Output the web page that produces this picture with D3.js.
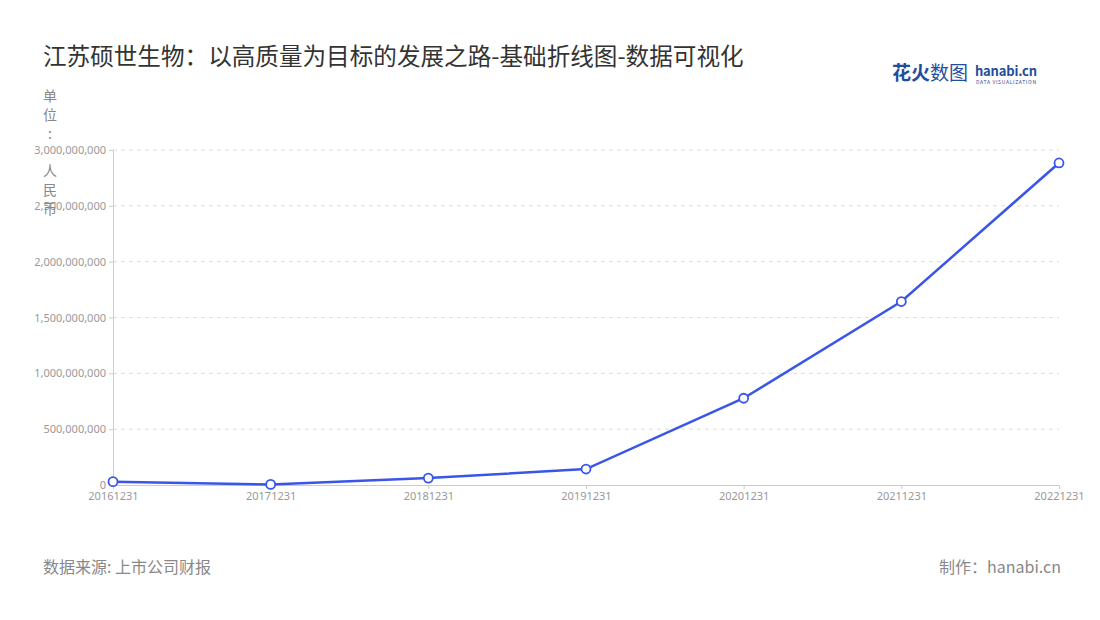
<!DOCTYPE html><html><head><meta charset="utf-8"><script src="https://cdn.jsdelivr.net/npm/d3@7"></script>
<style>body{margin:0;background:#fff;font-family:"Noto Sans CJK SC","Noto Sans",sans-serif}</style></head><body><svg id="c" width="1100" height="620"></svg><script>
const categories=["20161231","20171231","20181231","20191231","20201231","20211231","20221231"];
const values=[30000000,5000000,62000000,143000000,777000000,1643000000,2884000000];
const yTicks=[0,500000000,1000000000,1500000000,2000000000,2500000000,3000000000];
const svg=d3.select("#c");
const x=d3.scalePoint().domain(categories).range([113,1059]);
const y=d3.scaleLinear().domain([0,3000000000]).range([485,150]);
svg.append("text").attr("x",43).attr("y",65).attr("font-size",23.6).attr("fill","#333").text("江苏硕世生物：以高质量为目标的发展之路-基础折线图-数据可视化");
// logo
svg.append("text").attr("x",892).attr("y",80).attr("font-size",19).attr("font-weight","bold").attr("fill","#1f4e9e").text("花火");
svg.append("text").attr("x",930).attr("y",80).attr("font-size",19).attr("fill","#1f4e9e").text("数图");
svg.append("text").attr("x",975).attr("y",76).attr("font-size",13).attr("font-weight","bold").attr("fill","#1f4e9e").attr("textLength",62).text("hanabi.cn");
svg.append("text").attr("x",976).attr("y",84).attr("font-size",5).attr("fill","#1f4e9e").attr("textLength",60).text("DATA VISUALIZATION");
// grid
svg.append("g").selectAll("line").data(yTicks.slice(1)).join("line").attr("x1",113).attr("x2",1059).attr("y1",d=>y(d)).attr("y2",d=>y(d)).attr("stroke","#ddd").attr("stroke-dasharray","4,4");
const ya=svg.append("g").attr("transform","translate(113,0)").call(d3.axisLeft(y).tickValues(yTicks).tickFormat(d3.format(",")).tickSize(4));
ya.selectAll("text").attr("fill","#999").attr("font-size",11).attr("font-family","Noto Sans");
ya.selectAll("line,path").attr("stroke","#ccc");
const xa=svg.append("g").attr("transform","translate(0,485)").call(d3.axisBottom(x).tickSize(4));
xa.selectAll("text").attr("fill","#999").attr("font-size",11).attr("font-family","Noto Sans");
xa.selectAll("line,path").attr("stroke","#ccc");
// unit label
"单位: 人民币".split("").forEach((ch,i)=>svg.append("text").attr("x",50).attr("y",101+i*18.8).attr("text-anchor","middle").attr("font-size",14).attr("fill","#888").text(ch));
svg.append("path").datum(values).attr("fill","none").attr("stroke","#3a56e8").attr("stroke-width",2.5)
 .attr("d",d3.line().x((d,i)=>x(categories[i])).y(d=>y(d)));
svg.append("g").selectAll("circle").data(values).join("circle").attr("cx",(d,i)=>x(categories[i])).attr("cy",d=>y(d)).attr("r",4.5).attr("fill","#fff").attr("stroke","#3a56e8").attr("stroke-width",1.8);
svg.append("text").attr("x",43).attr("y",573).attr("font-size",16).attr("fill","#888").text("数据来源: 上市公司财报");
svg.append("text").attr("x",1061).attr("y",573).attr("text-anchor","end").attr("font-size",16).attr("fill","#888").text("制作：hanabi.cn");
</script></body></html>
